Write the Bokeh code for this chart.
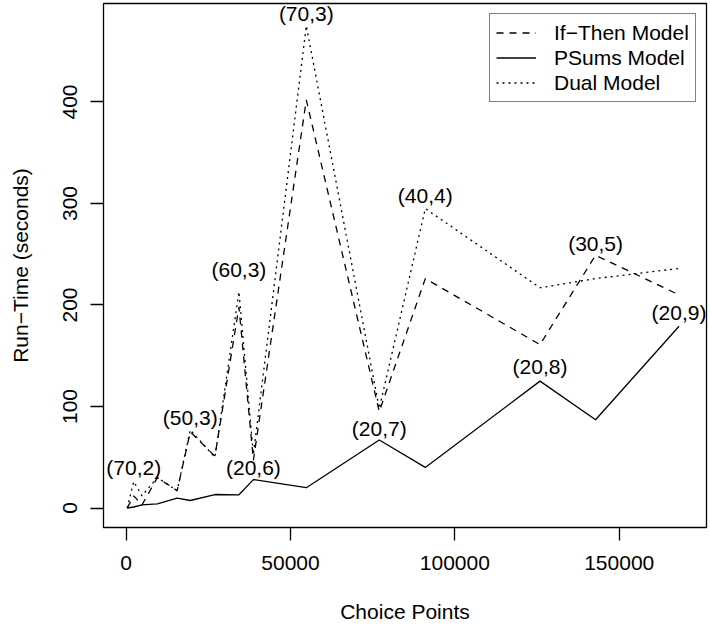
from bokeh.plotting import figure
from bokeh.models import (Range1d, FixedTicker, NumeralTickFormatter, Legend,
                          LegendItem, ColumnDataSource)
from bokeh.core.properties import value
from bokeh.embed import file_html
from bokeh.resources import INLINE

# Choice points of each (n, k) instance
choice_points = [300, 2300, 4800, 9500, 15500, 19500, 27000, 34300, 38700,
                 54800, 77000, 91000, 125900, 142800, 168200]

# Run-times in seconds for each model
ifthen_times = [0, 12, 3, 30, 17, 75, 51, 198, 47, 402, 95, 226, 161, 249, 210]
psums_times = [0, 1, 3, 4, 9.7, 7.4, 13.3, 13, 28, 20, 67, 40, 125, 87, 179]
dual_times = [0, 26, 12, 30, 17, 77, 50, 213, 53, 475, 98, 295, 217, 226, 236]

# Instance annotations: (n,k) text, index into choice_points, series it sits on
note_text = ["(70,2)", "(50,3)", "(60,3)", "(20,6)", "(70,3)", "(20,7)",
             "(40,4)", "(20,8)", "(30,5)", "(20,9)"]
note_index = [1, 5, 7, 8, 9, 10, 11, 12, 13, 14]
note_series = ["dual", "dual", "dual", "psums", "dual", "psums", "dual",
               "psums", "ifthen", "psums"]

x_ticks = [0, 50000, 100000, 150000]
y_ticks = [0, 100, 200, 300, 400]

FONT = "Liberation Sans"
FS = "21px"

p = figure(width=710, height=629,
           x_range=Range1d(-6900, 176550), y_range=Range1d(-19.2, 497),
           output_backend="svg", toolbar_location=None,
           min_border_left=103, min_border_right=4,
           min_border_top=3, min_border_bottom=102,
           background_fill_color="white", border_fill_color="white")

p.xgrid.visible = False
p.ygrid.visible = False
p.outline_line_color = "black"
p.outline_line_width = 1.3
p.outline_line_alpha = 1

for ax in (p.xaxis[0], p.yaxis[0]):
    ax.axis_line_color = None
    ax.major_tick_out = 13
    ax.major_tick_in = 0
    ax.minor_tick_line_color = None
    ax.major_tick_line_color = "black"
    ax.major_tick_line_width = 1.3
    ax.major_label_text_font = FONT
    ax.major_label_text_font_size = FS
    ax.major_label_text_color = "black"
    ax.axis_label_text_font = FONT
    ax.axis_label_text_font_size = FS
    ax.axis_label_text_font_style = "normal"
    ax.axis_label_text_color = "black"
    ax.formatter = NumeralTickFormatter(format="0")

p.xaxis.ticker = FixedTicker(ticks=x_ticks)
p.yaxis.ticker = FixedTicker(ticks=y_ticks)
p.xaxis.major_label_standoff = 15
p.yaxis.major_label_standoff = 13
p.yaxis.major_label_orientation = "vertical"
p.xaxis.axis_label = "Choice Points"
p.yaxis.axis_label = "Run\u2212Time (seconds)"
p.xaxis.axis_label_standoff = 27
p.yaxis.axis_label_standoff = 29

r_ifthen = p.line(choice_points, ifthen_times, line_color="black",
                  line_width=1.3, line_dash="7 6")
r_psums = p.line(choice_points, psums_times, line_color="black",
                 line_width=1.3)
r_dual = p.line(choice_points, dual_times, line_color="black",
                line_width=1.3, line_dash="2 4")

series = {"ifthen": ifthen_times, "psums": psums_times, "dual": dual_times}
note_x = [choice_points[i] for i in note_index]
note_y = [series[s][i] for s, i in zip(note_series, note_index)]
# screen-space lift of each annotation above its point
note_lift = [-14, -12, -22, -12, -12, -11, -13, -15, -12, -14]

src = ColumnDataSource(dict(x=note_x, y=note_y, text=note_text, dy=note_lift))
p.text(x="x", y="y", text="text", y_offset="dy", source=src,
       text_align="center", text_baseline="middle",
       text_font=value(FONT), text_font_size=FS, text_color="black")

legend = Legend(items=[LegendItem(label="If\u2212Then Model", renderers=[r_ifthen]),
                       LegendItem(label="PSums Model", renderers=[r_psums]),
                       LegendItem(label="Dual Model", renderers=[r_dual])],
                location=(386, 425), margin=0, padding=6, spacing=0,
                label_height=25, glyph_height=25, glyph_width=40,
                label_standoff=18, label_width=120,
                label_text_font=FONT, label_text_font_size=FS,
                label_text_color="black",
                border_line_color="black", border_line_width=1.3,
                background_fill_color="white", background_fill_alpha=1)
p.add_layout(legend)

open("out.html", "w").write(file_html(p, INLINE))
